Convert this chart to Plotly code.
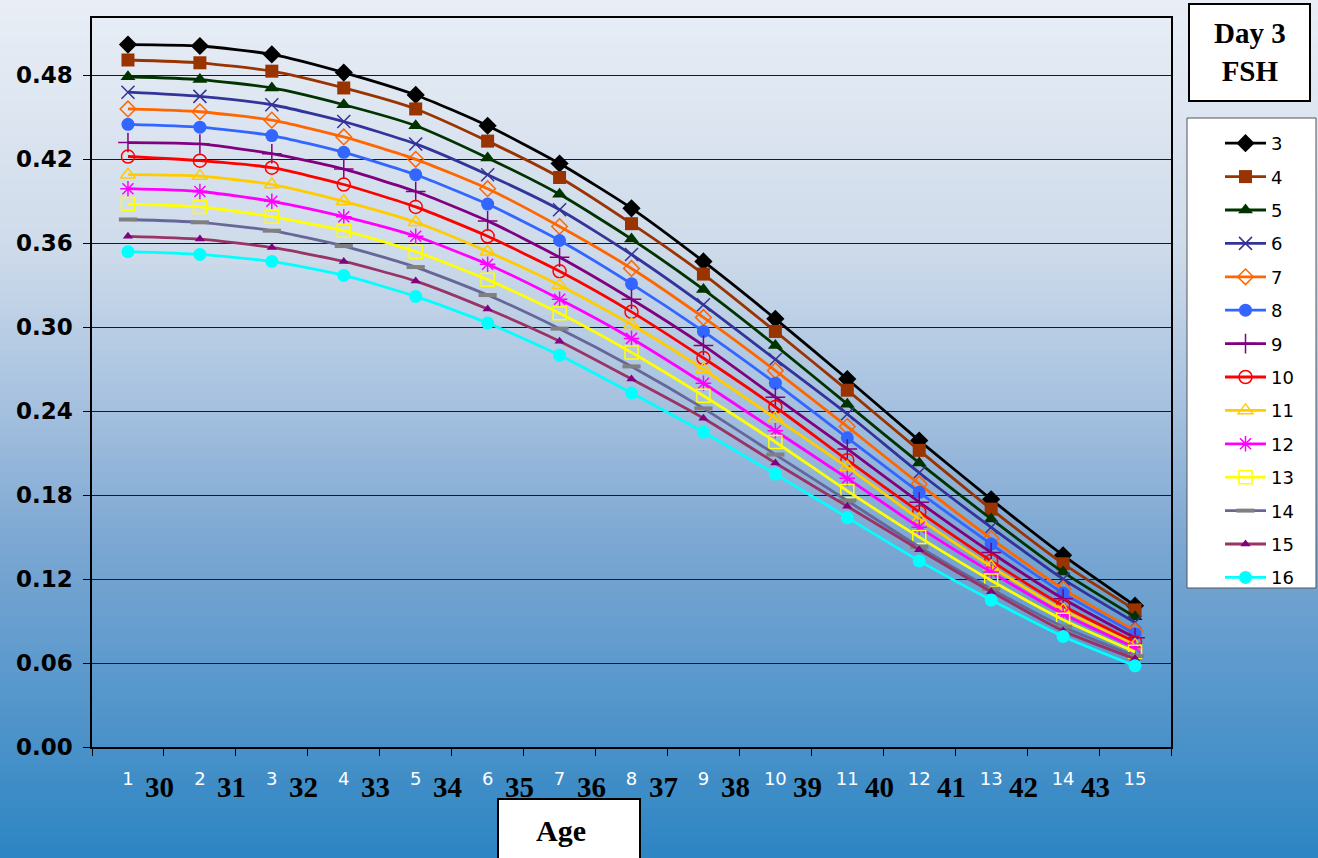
import plotly.graph_objects as go

# ---------------- data ----------------
categories = [str(i) for i in range(1, 16)]
ages = [30, 31, 32, 33, 34, 35, 36, 37, 38, 39, 40, 41, 42, 43]
y_ticks = [0.00, 0.06, 0.12, 0.18, 0.24, 0.30, 0.36, 0.42, 0.48]
y_ticktext = ["0.00", "0.06", "0.12", "0.18", "0.24", "0.30", "0.36", "0.42", "0.48"]
series_names = ["3", "4", "5", "6", "7", "8", "9", "10", "11", "12", "13", "14", "15", "16"]

fsh3 = [0.502, 0.501, 0.495, 0.482, 0.466, 0.444, 0.417, 0.385, 0.347, 0.306, 0.263, 0.219, 0.177, 0.137, 0.101]
fsh4 = [0.491, 0.489, 0.483, 0.471, 0.456, 0.433, 0.407, 0.374, 0.338, 0.297, 0.255, 0.212, 0.170, 0.131, 0.098]
fsh5 = [0.479, 0.477, 0.471, 0.459, 0.444, 0.421, 0.395, 0.363, 0.327, 0.287, 0.245, 0.203, 0.163, 0.125, 0.093]
fsh6 = [0.468, 0.465, 0.459, 0.447, 0.431, 0.409, 0.384, 0.352, 0.316, 0.277, 0.238, 0.196, 0.157, 0.120, 0.089]
fsh7 = [0.456, 0.454, 0.448, 0.436, 0.420, 0.399, 0.372, 0.342, 0.307, 0.269, 0.229, 0.188, 0.149, 0.113, 0.083]
fsh8 = [0.445, 0.443, 0.437, 0.425, 0.409, 0.388, 0.362, 0.331, 0.297, 0.260, 0.221, 0.182, 0.145, 0.110, 0.081]
fsh9 = [0.432, 0.431, 0.424, 0.413, 0.397, 0.376, 0.350, 0.320, 0.287, 0.250, 0.213, 0.175, 0.139, 0.106, 0.078]
fsh10 = [0.422, 0.419, 0.414, 0.402, 0.386, 0.365, 0.340, 0.311, 0.278, 0.243, 0.205, 0.168, 0.133, 0.101, 0.075]
fsh11 = [0.409, 0.408, 0.402, 0.390, 0.375, 0.354, 0.330, 0.302, 0.270, 0.235, 0.200, 0.163, 0.129, 0.098, 0.073]
fsh12 = [0.399, 0.397, 0.390, 0.379, 0.365, 0.345, 0.320, 0.292, 0.260, 0.226, 0.192, 0.157, 0.125, 0.095, 0.071]
fsh13 = [0.388, 0.386, 0.379, 0.369, 0.354, 0.334, 0.310, 0.282, 0.251, 0.218, 0.183, 0.150, 0.119, 0.091, 0.068]
fsh14 = [0.377, 0.375, 0.369, 0.358, 0.343, 0.323, 0.299, 0.272, 0.242, 0.209, 0.176, 0.143, 0.113, 0.086, 0.065]
fsh15 = [0.365, 0.363, 0.357, 0.347, 0.333, 0.313, 0.290, 0.263, 0.235, 0.203, 0.172, 0.141, 0.111, 0.083, 0.063]
fsh16 = [0.354, 0.352, 0.347, 0.337, 0.322, 0.303, 0.280, 0.253, 0.225, 0.195, 0.164, 0.133, 0.105, 0.079, 0.058]

all_series = [fsh3, fsh4, fsh5, fsh6, fsh7, fsh8, fsh9, fsh10, fsh11, fsh12, fsh13, fsh14, fsh15, fsh16]

# ---------------- styles ----------------
line_colors = ["#000000", "#993300", "#003300", "#333399", "#FF6600", "#3366FF", "#800080",
               "#FF0000", "#FFCC00", "#FF00FF", "#FFFF00", "#666699", "#993366", "#00FFFF"]
marker_colors = ["#000000", "#993300", "#003300", "#333399", "#FF6600", "#3366FF", "#800080",
                 "#FF0000", "#FFCC00", "#FF00FF", "#FFFF00", "#808080", "#800080", "#00FFFF"]
symbols = ["diamond", "square", "triangle-up", "x-thin-open", "diamond-open", "circle",
           "cross-thin-open", "circle-open", "triangle-up-open", "asterisk-open", "square-open",
           "line-ew-open", "triangle-up", "circle"]
msizes = [14, 13, 13, 13, 12, 13, 14, 13, 13, 13, 13, 13, 9, 13]

fig = go.Figure()

for i, (name, ys) in enumerate(zip(series_names, all_series)):
    sym = symbols[i]
    mline = dict(width=1.5 if "open" in sym else 0, color=marker_colors[i])
    if sym == "line-ew-open":
        mline = dict(width=4, color=marker_colors[i])
    fig.add_trace(go.Scatter(
        x=categories, y=ys, name=name, mode="lines+markers",
        line=dict(color=line_colors[i], width=2.8, shape="spline", smoothing=0.6),
        marker=dict(symbol=sym, size=msizes[i], color=marker_colors[i], line=mline),
        legendgroup=name,
    ))

# ---------------- background gradient ----------------
stops = [(0.0, (233, 238, 246)), (0.29, (206, 219, 234)), (0.47, (166, 193, 223)),
         (0.64, (122, 166, 210)), (0.82, (84, 150, 203)), (1.0, (44, 133, 195))]

def grad(t):
    for (t0, c0), (t1, c1) in zip(stops[:-1], stops[1:]):
        if t <= t1:
            f = (t - t0) / (t1 - t0)
            return tuple(int(round(a + (b - a) * f)) for a, b in zip(c0, c1))
    return stops[-1][1]

W, H = 1318, 858
ml, mr, mt, mb = 92, 147, 18, 111
pw, ph = W - ml - mr, H - mt - mb

def px_x(p):
    return (p - ml) / pw

def px_y(p):
    return (H - mb - p) / ph

shapes = []
nb = 120
for k in range(nb):
    top = k * H / nb
    bot = (k + 1) * H / nb + 1
    r, g, b = grad((k + 0.5) / nb)
    shapes.append(dict(type="rect", xref="paper", yref="paper", layer="below",
                       x0=px_x(-5), x1=px_x(W + 5), y0=px_y(bot), y1=px_y(top),
                       fillcolor=f"rgb({r},{g},{b})", line=dict(width=0)))

# Day 3 FSH box
shapes.append(dict(type="rect", xref="paper", yref="paper", layer="above",
                   x0=px_x(1189), x1=px_x(1310), y0=px_y(101), y1=px_y(4),
                   fillcolor="white", line=dict(color="black", width=2)))
# Age box
shapes.append(dict(type="rect", xref="paper", yref="paper", layer="above",
                   x0=px_x(498), x1=px_x(640), y0=px_y(870), y1=px_y(799),
                   fillcolor="white", line=dict(color="black", width=2)))
# legend box
shapes.append(dict(type="rect", xref="paper", yref="paper", layer="above",
                   x0=px_x(1187), x1=px_x(1316), y0=px_y(588), y1=px_y(118),
                   fillcolor="white", line=dict(color="#555555", width=1)))

annotations = []
for k, a in enumerate(ages):
    annotations.append(dict(x=k + 0.5, y=px_y(787), xref="x", yref="paper",
                            text=f"<b>{a}</b>", showarrow=False, xshift=-4,
                            font=dict(family="Liberation Serif", size=29, color="black"),
                            xanchor="center", yanchor="middle"))
annotations.append(dict(x=px_x(561), y=px_y(831), xref="paper", yref="paper",
                        text="<b>Age</b>", showarrow=False,
                        font=dict(family="Liberation Serif", size=30, color="black"),
                        xanchor="center", yanchor="middle"))
annotations.append(dict(x=px_x(1250), y=px_y(52), xref="paper", yref="paper",
                        text="<b>Day 3<br>FSH</b>", showarrow=False,
                        font=dict(family="Liberation Serif", size=29, color="black"),
                        xanchor="center", yanchor="middle"))

fig.update_layout(
    width=W, height=H,
    margin=dict(l=ml, r=mr, t=mt, b=mb, pad=0),
    paper_bgcolor="white",
    plot_bgcolor="rgba(0,0,0,0)",
    shapes=shapes,
    annotations=annotations,
    showlegend=True,
    legend=dict(x=px_x(1220), y=px_y(125), xanchor="left", yanchor="top",
                bgcolor="rgba(0,0,0,0)", borderwidth=0,
                font=dict(family="DejaVu Sans", size=18, color="black"),
                itemwidth=41, tracegroupgap=7, traceorder="grouped"),
    xaxis=dict(
        type="category", range=[-0.5, 14.5], tickson="boundaries", ticks="outside", ticklen=7,
        tickcolor="black", tickwidth=1,
        showline=True, linecolor="black", linewidth=1.5, mirror=True,
        showgrid=False, zeroline=False,
        tickfont=dict(family="DejaVu Sans", size=18, color="white"),
        ticklabelstandoff=15,
    ),
    yaxis=dict(
        range=[0, 0.521], tickvals=y_ticks, ticktext=y_ticktext,
        ticks="outside", ticklen=7, tickcolor="black",
        showline=True, linecolor="black", linewidth=1.5, mirror=True,
        showgrid=True, gridcolor="#1a1a1a", gridwidth=1, zeroline=False,
        tickfont=dict(family="DejaVu Sans", size=23, color="black", weight="bold"),
        ticklabelstandoff=6,
    ),
)

fig.write_html("out.html", config={"displayModeBar": False},
               post_script="document.body.style.margin='0px';document.body.style.overflow='hidden';")
